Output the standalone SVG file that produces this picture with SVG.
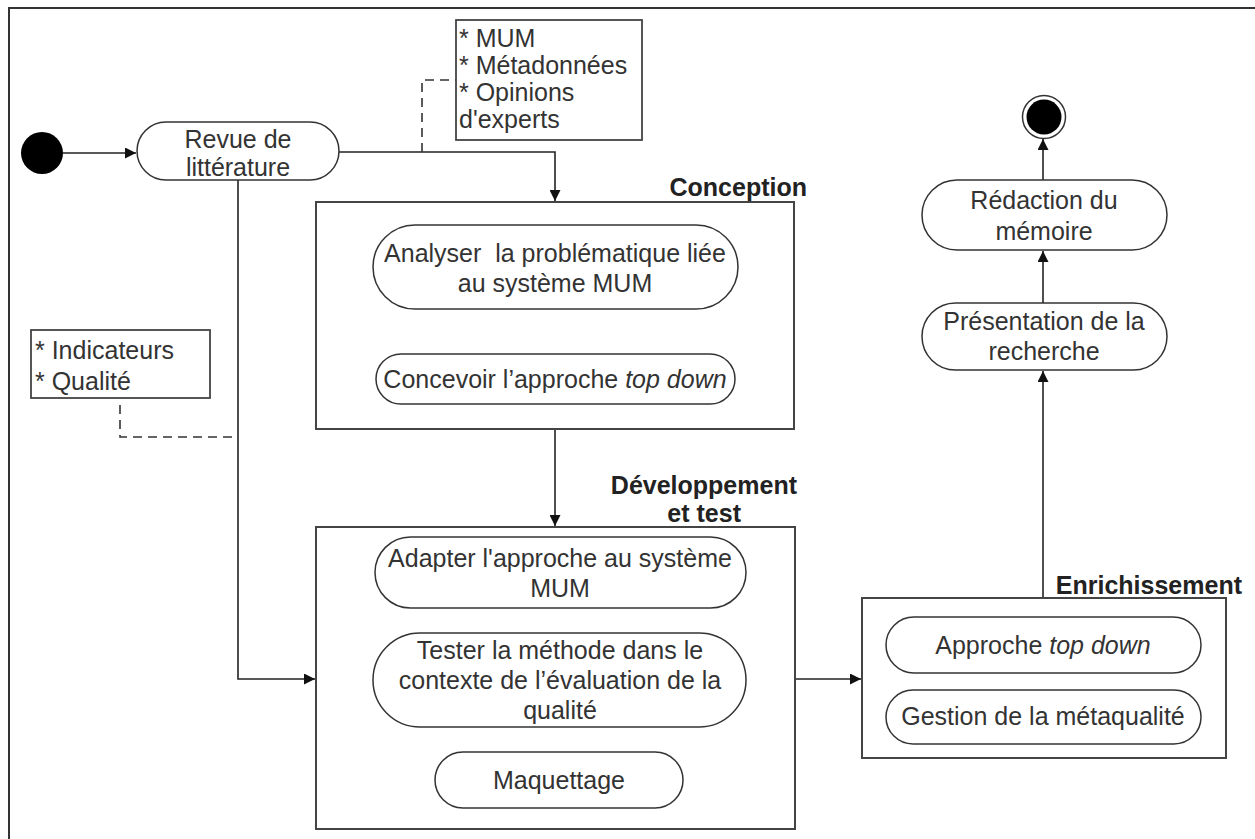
<svg xmlns="http://www.w3.org/2000/svg" width="1255" height="839" viewBox="0 0 1255 839">
  <style>
    .pill { fill: #fff; stroke: #333; stroke-width: 1.5; }
    .box { fill: #fff; stroke: #444; stroke-width: 2; }
    .note { fill: #fff; stroke: #444; stroke-width: 1.8; }
    .edge { fill: none; stroke: #222; stroke-width: 1.6; }
    .dash { fill: none; stroke: #333; stroke-width: 1.6; stroke-dasharray: 9 6; }
    text { font-family: "Liberation Sans", Arial, sans-serif; font-size: 25px; fill: #333; }
    .c { text-anchor: middle; }
    .title { font-weight: bold; fill: #222; }
  </style>
  <defs>
    <marker id="arrow" viewBox="0 0 10 10" refX="10" refY="5" markerWidth="11" markerHeight="11" markerUnits="userSpaceOnUse" orient="auto">
      <path d="M0,0 L10,5 L0,10 z" fill="#111"/>
    </marker>
  </defs>
  <rect width="1255" height="839" fill="#fff"/>
  <!-- outer frame -->
  <path d="M9,839 V8 H1255" fill="none" stroke="#333" stroke-width="2"/>

  <!-- connectors -->
  <g id="connectors">
    <line class="edge" x1="63" y1="153" x2="136" y2="153" marker-end="url(#arrow)"/>
    <path class="edge" d="M339,152 H555 V201" marker-end="url(#arrow)"/>
    <path class="dash" d="M422,152 V80 H456"/>
    <path class="edge" d="M238,180 V679 H315" marker-end="url(#arrow)"/>
    <path class="dash" d="M120,405 V437 H238"/>
    <line class="edge" x1="555" y1="309" x2="555" y2="353" marker-end="url(#arrow)"/>
    <path class="edge" d="M735,380 H770 V268 H739" marker-end="url(#arrow)"/>
    <line class="edge" x1="555" y1="429" x2="555" y2="526" marker-end="url(#arrow)"/>
    <line class="edge" x1="560" y1="608" x2="560" y2="632" marker-end="url(#arrow)"/>
    <line class="edge" x1="560" y1="727" x2="560" y2="751" marker-end="url(#arrow)"/>
    <path class="edge" d="M746,680 H770 V573 H746" marker-end="url(#arrow)"/>
    <line class="edge" x1="795" y1="679" x2="861" y2="679" marker-end="url(#arrow)"/>
    <line class="edge" x1="1043" y1="598" x2="1043" y2="371" marker-end="url(#arrow)"/>
    <line class="edge" x1="1043" y1="303" x2="1043" y2="251" marker-end="url(#arrow)"/>
    <line class="edge" x1="1043" y1="180" x2="1043" y2="139" marker-end="url(#arrow)"/>
  </g>

  <!-- start / end -->
  <g id="start"><circle cx="42" cy="153" r="21" fill="#000"/></g>
  <g id="end">
    <circle cx="1044" cy="117" r="21.5" fill="#fff" stroke="#333" stroke-width="1.5"/>
    <circle cx="1044" cy="117" r="17.5" fill="#000"/>
  </g>

  <!-- literature review -->
  <g id="revue">
    <rect class="pill" x="137" y="122" width="202" height="58" rx="29"/>
    <text class="c" x="238" y="148">Revue de</text>
    <text class="c" x="238" y="176">littérature</text>
  </g>

  <!-- notes -->
  <g id="note-sources">
    <rect class="note" x="456" y="20" width="186" height="120"/>
    <text x="459" y="47">* MUM</text>
    <text x="459" y="74">* Métadonnées</text>
    <text x="459" y="101">* Opinions</text>
    <text x="459" y="128">d'experts</text>
  </g>
  <g id="note-indicateurs">
    <rect class="note" x="31" y="330" width="179" height="68"/>
    <text x="35" y="359">* Indicateurs</text>
    <text x="35" y="390">* Qualité</text>
  </g>

  <!-- Conception phase -->
  <g id="conception">
    <rect class="box" x="316" y="202" width="478" height="227"/>
    <text class="title" x="807" y="196" text-anchor="end">Conception</text>
  </g>
  <g id="analyser">
    <rect class="pill" x="373" y="225" width="365" height="84" rx="42"/>
    <text class="c" x="555" y="262">Analyser &#160;la problématique liée</text>
    <text class="c" x="555" y="292">au système MUM</text>
  </g>
  <g id="concevoir">
    <rect class="pill" x="376" y="354" width="359" height="50" rx="25"/>
    <text class="c" x="555" y="388">Concevoir l’approche <tspan font-style="italic">top down</tspan></text>
  </g>

  <!-- Development and test phase -->
  <g id="developpement">
    <rect class="box" x="316" y="527" width="479" height="302"/>
    <text class="title" x="797" y="494" text-anchor="end">Développement</text>
    <text class="title" x="741" y="522" text-anchor="end">et test</text>
  </g>
  <g id="adapter">
    <rect class="pill" x="375" y="537" width="371" height="71" rx="35.5"/>
    <text class="c" x="560" y="567">Adapter l'approche au système</text>
    <text class="c" x="560" y="597">MUM</text>
  </g>
  <g id="tester">
    <rect class="pill" x="373" y="633" width="373" height="94" rx="47"/>
    <text class="c" x="560" y="659">Tester la méthode dans le</text>
    <text class="c" x="560" y="689">contexte de l’évaluation de la</text>
    <text class="c" x="560" y="719">qualité</text>
  </g>
  <g id="maquettage">
    <rect class="pill" x="435" y="752" width="248" height="56" rx="28"/>
    <text class="c" x="559" y="789">Maquettage</text>
  </g>

  <!-- Enrichment phase -->
  <g id="enrichissement">
    <rect class="box" x="862" y="598" width="364" height="160"/>
    <text class="title" x="1242" y="594" text-anchor="end">Enrichissement</text>
  </g>
  <g id="approche">
    <rect class="pill" x="886" y="617" width="315" height="56" rx="28"/>
    <text class="c" x="1043" y="654">Approche <tspan font-style="italic">top down</tspan></text>
  </g>
  <g id="gestion">
    <rect class="pill" x="886" y="690" width="315" height="54" rx="27"/>
    <text class="c" x="1043" y="725">Gestion de la métaqualité</text>
  </g>

  <!-- final steps -->
  <g id="presentation">
    <rect class="pill" x="922" y="303" width="245" height="67" rx="33.5"/>
    <text class="c" x="1044" y="330">Présentation de la</text>
    <text class="c" x="1044" y="360">recherche</text>
  </g>
  <g id="redaction">
    <rect class="pill" x="922" y="180" width="245" height="70" rx="35"/>
    <text class="c" x="1044" y="209">Rédaction du</text>
    <text class="c" x="1044" y="240">mémoire</text>
  </g>
</svg>
